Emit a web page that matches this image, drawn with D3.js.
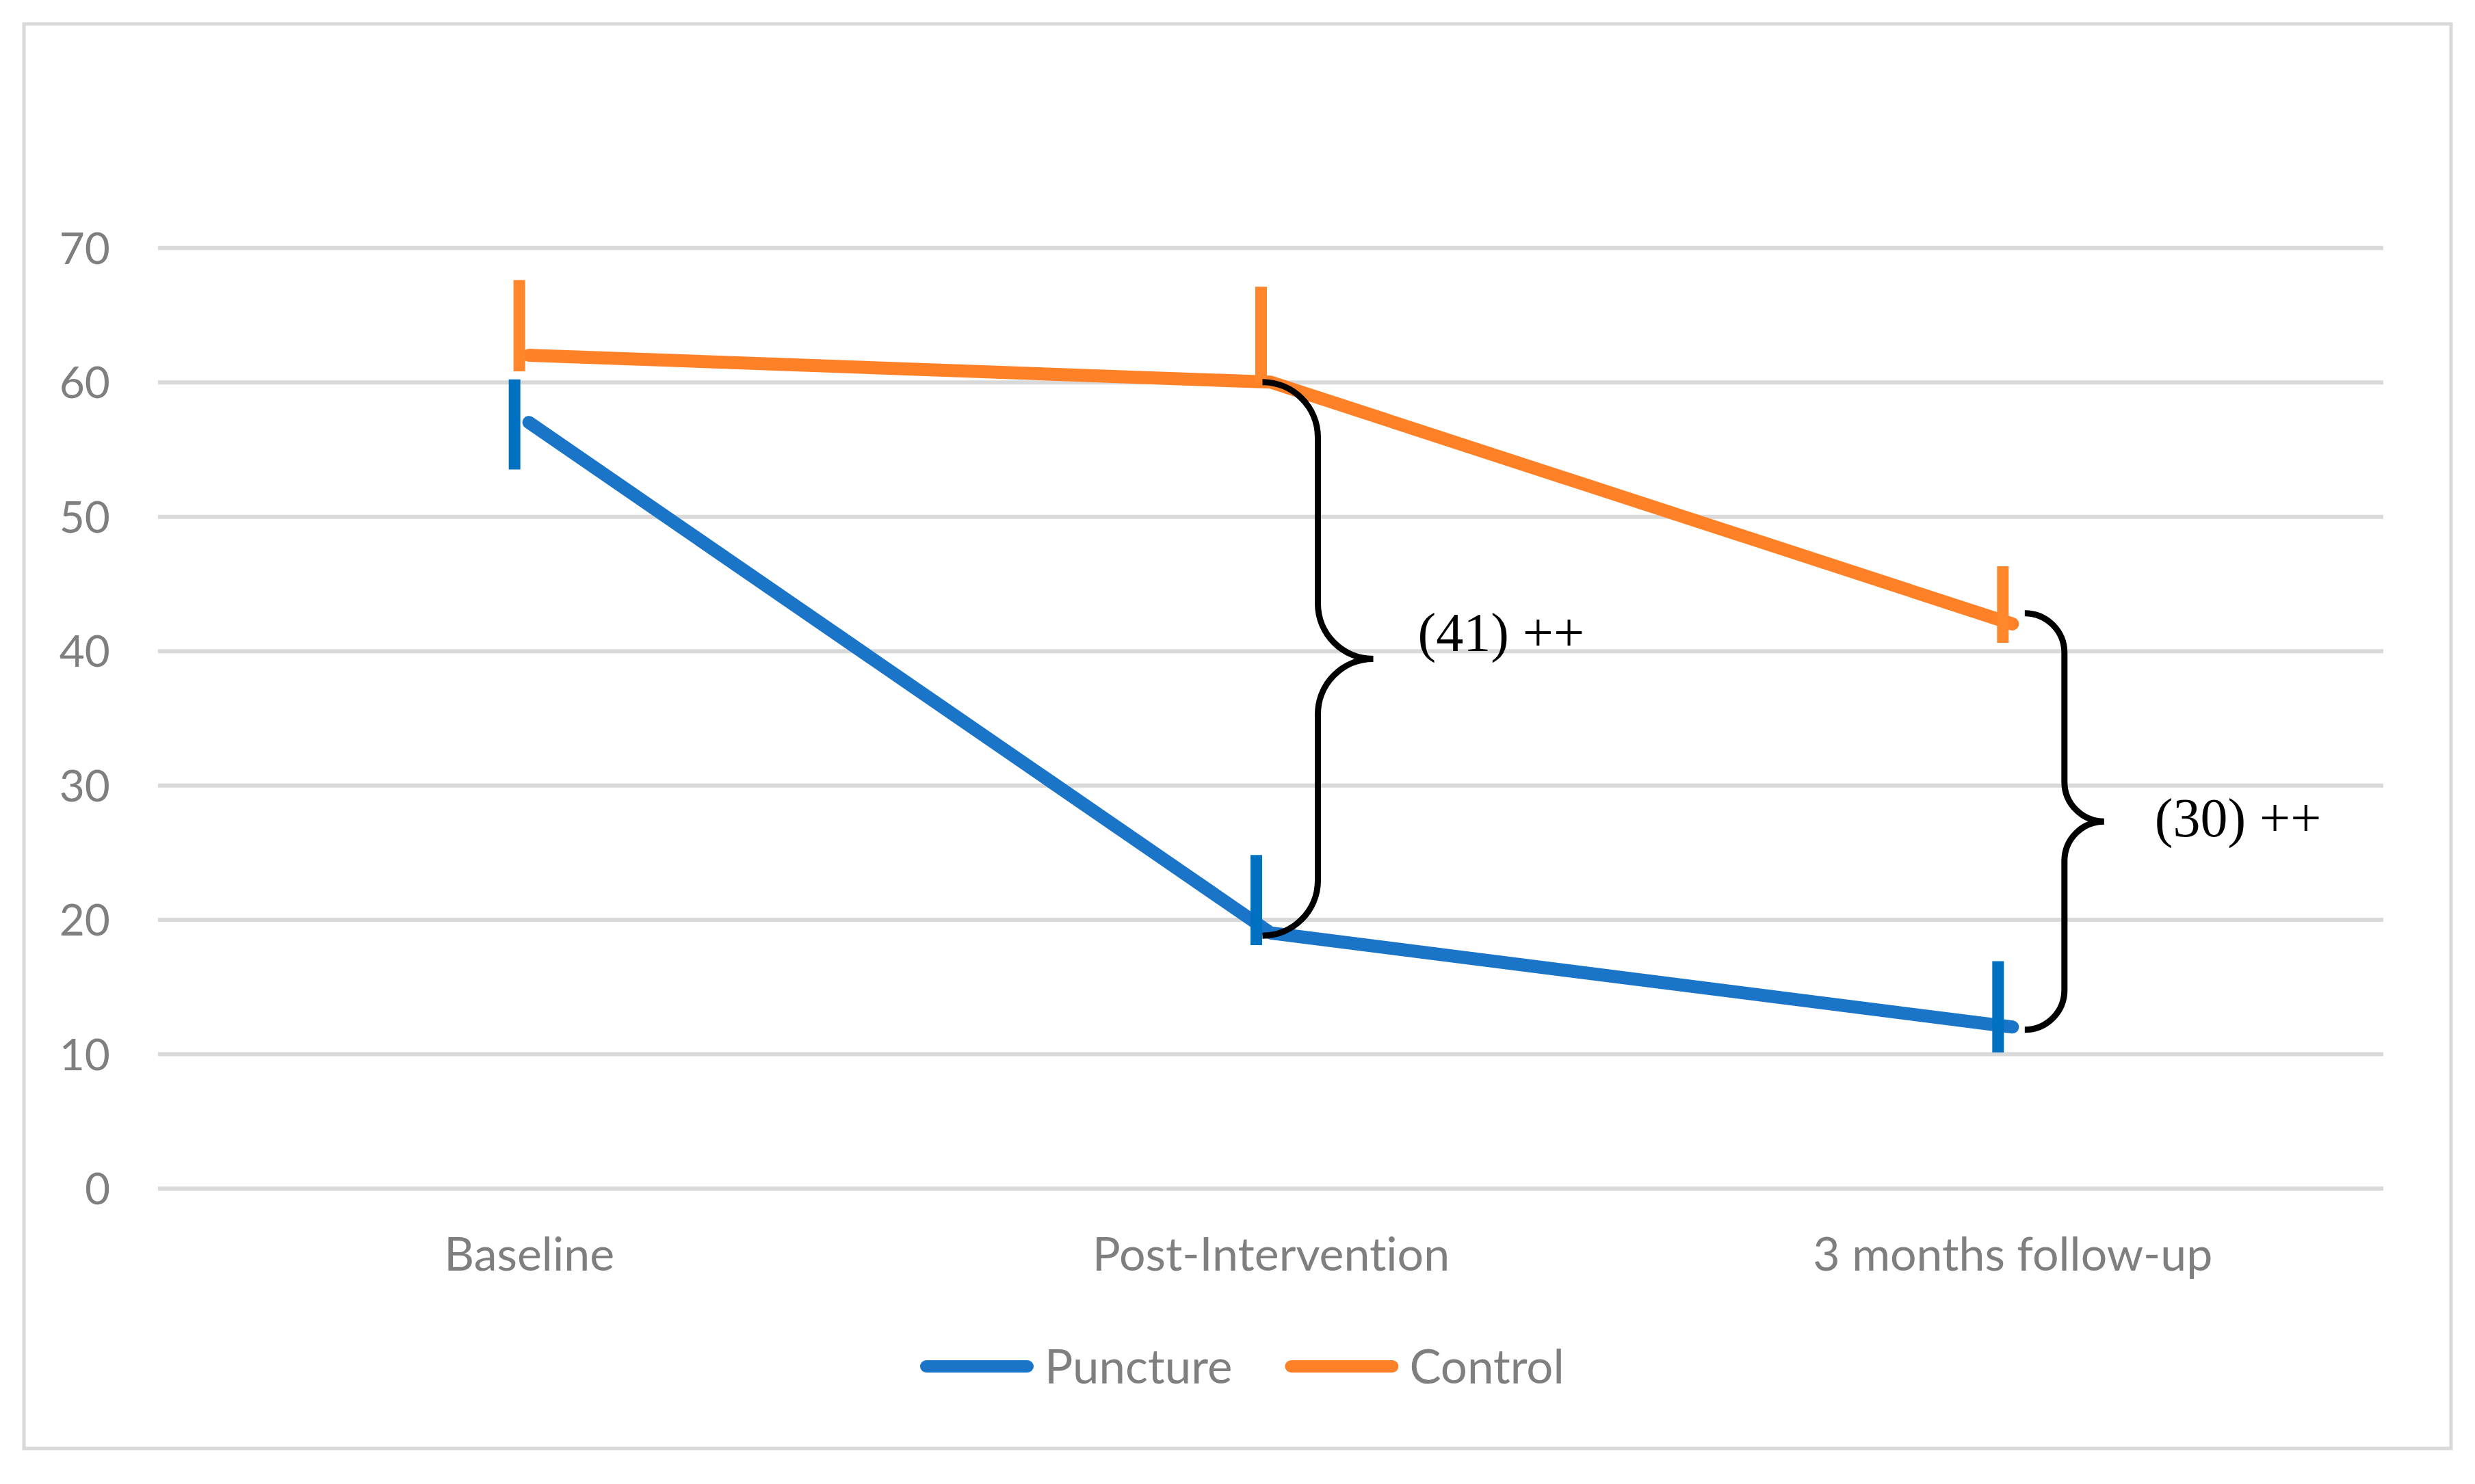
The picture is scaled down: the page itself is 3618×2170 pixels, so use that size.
<!DOCTYPE html>
<html>
<head>
<meta charset="utf-8">
<script src="https://cdn.jsdelivr.net/npm/d3@7"></script>
<style>
  html, body { margin: 0; padding: 0; background: #ffffff; }
  svg { display: block; }
  text { font-variant-ligatures: none; font-feature-settings: "liga" 0, "clig" 0; }
</style>
</head>
<body>
<script>
// ---------------- data ----------------
const categories = ["Baseline", "Post-Intervention", "3 months follow-up"];
const yTicks = [0, 10, 20, 30, 40, 50, 60, 70];

const seriesNames = ["Puncture", "Control"];
const punctureMean = [57, 19, 12];
const punctureLow  = [53.5, 18.1, 10.1];
const punctureHigh = [60.2, 24.8, 16.9];
const controlMean  = [62, 60, 42];
const controlLow   = [60.8, 60.0, 40.6];
const controlHigh  = [67.6, 67.1, 46.3];

const braceCats   = ["Post-Intervention", "3 months follow-up"];
const braceTop    = [60, 42.8];
const braceBottom = [18.8, 11.8];
const braceLabels = ["(41) ++", "(30) ++"];

// ---------------- layout / style ----------------
const W = 3618, H = 2170;
const plotLeft = 231, plotRight = 3484, plotTop = 362.3, plotBottom = 1737.5;
const gray = "#7f7f7f", gridColor = "#d9d9d9";
const sansFont = "Lato, 'Open Sans', sans-serif";
const serifFont = "'Liberation Serif', 'DejaVu Serif', serif";

const seriesStyle = [
  { line: "#1a75c9", bar: "#0070c0", barShift: -21 },
  { line: "#ff8127", bar: "#ff862a", barShift: -14 }
];
const braceStyle = [
  { tipShift: -12, w: 81, textGap: 65, textDy: -11 },
  { tipShift: 18,  w: 58, textGap: 74, textDy: 22 }
];

const svg = d3.select("body").append("svg")
  .attr("width", W).attr("height", H);

svg.append("rect").attr("width", W).attr("height", H).attr("fill", "#fff");

// outer border
svg.append("rect")
  .attr("x", 35).attr("y", 35).attr("width", 3548).attr("height", 2083)
  .attr("fill", "none").attr("stroke", gridColor).attr("stroke-width", 5);

const x = d3.scalePoint().domain(categories).range([plotLeft, plotRight]).padding(0.5);
const y = d3.scaleLinear().domain([0, 70]).range([plotBottom, plotTop]);

// y axis with gridlines
const yAxis = svg.append("g")
  .attr("transform", `translate(${plotLeft},0)`)
  .call(d3.axisLeft(y).tickValues(yTicks).tickSize(-(plotRight - plotLeft)).tickPadding(70).tickFormat(d3.format("d")));
yAxis.select(".domain").remove();
yAxis.selectAll(".tick line").attr("stroke", gridColor).attr("stroke-width", 6);
yAxis.selectAll(".tick text")
  .attr("fill", gray).attr("font-family", sansFont).attr("font-size", 64)
  .attr("dy", "0.36em");

// x axis labels
const xAxis = svg.append("g")
  .attr("transform", `translate(0,${plotBottom})`)
  .call(d3.axisBottom(x).tickSize(0).tickPadding(0));
xAxis.select(".domain").remove();
xAxis.selectAll(".tick text")
  .attr("fill", gray).attr("font-family", sansFont).attr("font-size", 68)
  .attr("y", 1834 - plotBottom).attr("dy", "0.36em");

// series
const series = [
  { name: seriesNames[0], mean: punctureMean, low: punctureLow, high: punctureHigh, style: seriesStyle[0] },
  { name: seriesNames[1], mean: controlMean,  low: controlLow,  high: controlHigh,  style: seriesStyle[1] }
];

const line = d3.line().x((d, i) => x(categories[i])).y(d => y(d));

series.forEach(s => {
  svg.append("path")
    .attr("d", line(s.mean))
    .attr("fill", "none")
    .attr("stroke", s.style.line)
    .attr("stroke-width", 19)
    .attr("stroke-linecap", "round")
    .attr("stroke-linejoin", "round");
});

series.forEach(s => {
  svg.append("g").selectAll("line")
    .data(categories)
    .join("line")
    .attr("x1", c => x(c) + s.style.barShift)
    .attr("x2", c => x(c) + s.style.barShift)
    .attr("y1", (c, i) => y(s.low[i]))
    .attr("y2", (c, i) => y(s.high[i]))
    .attr("stroke", s.style.bar)
    .attr("stroke-width", 17);
});

// braces
function bracePath(xTip, yTop, yBot, w) {
  const k = 0.5523, r = w;
  const xv = xTip + w, xc = xTip + 2 * w, ym = (yTop + yBot) / 2;
  return `M${xTip},${yTop}` +
    `C${xTip + k * w},${yTop} ${xv},${yTop + r - k * r} ${xv},${yTop + r}` +
    `L${xv},${ym - r}` +
    `C${xv},${ym - r + k * r} ${xc - k * w},${ym} ${xc},${ym}` +
    `C${xc - k * w},${ym} ${xv},${ym + r - k * r} ${xv},${ym + r}` +
    `L${xv},${yBot - r}` +
    `C${xv},${yBot - r + k * r} ${xTip + k * w},${yBot} ${xTip},${yBot}`;
}

braceCats.forEach((c, i) => {
  const st = braceStyle[i];
  const xTip = x(c) + st.tipShift;
  const yTop = y(braceTop[i]), yBot = y(braceBottom[i]);
  svg.append("path")
    .attr("d", bracePath(xTip, yTop, yBot, st.w))
    .attr("fill", "none").attr("stroke", "#000").attr("stroke-width", 9);
  svg.append("text")
    .attr("x", xTip + 2 * st.w + st.textGap)
    .attr("y", (yTop + yBot) / 2 + st.textDy)
    .attr("font-family", serifFont).attr("font-size", 80)
    .attr("fill", "#000")
    .text(braceLabels[i]);
});

// legend
const legend = svg.append("g").attr("transform", "translate(1345,1998)");
let lx = 0;
series.forEach(s => {
  legend.append("line")
    .attr("x1", lx + 9).attr("x2", lx + 157).attr("y1", 0).attr("y2", 0)
    .attr("stroke", s.style.line).attr("stroke-width", 18).attr("stroke-linecap", "round");
  const t = legend.append("text")
    .attr("x", lx + 182).attr("y", 0).attr("dy", "0.36em")
    .attr("font-family", sansFont).attr("font-size", 69).attr("fill", gray)
    .text(s.name);
  lx += 182 + t.node().getComputedTextLength() + 77;
});
</script>
</body>
</html>
